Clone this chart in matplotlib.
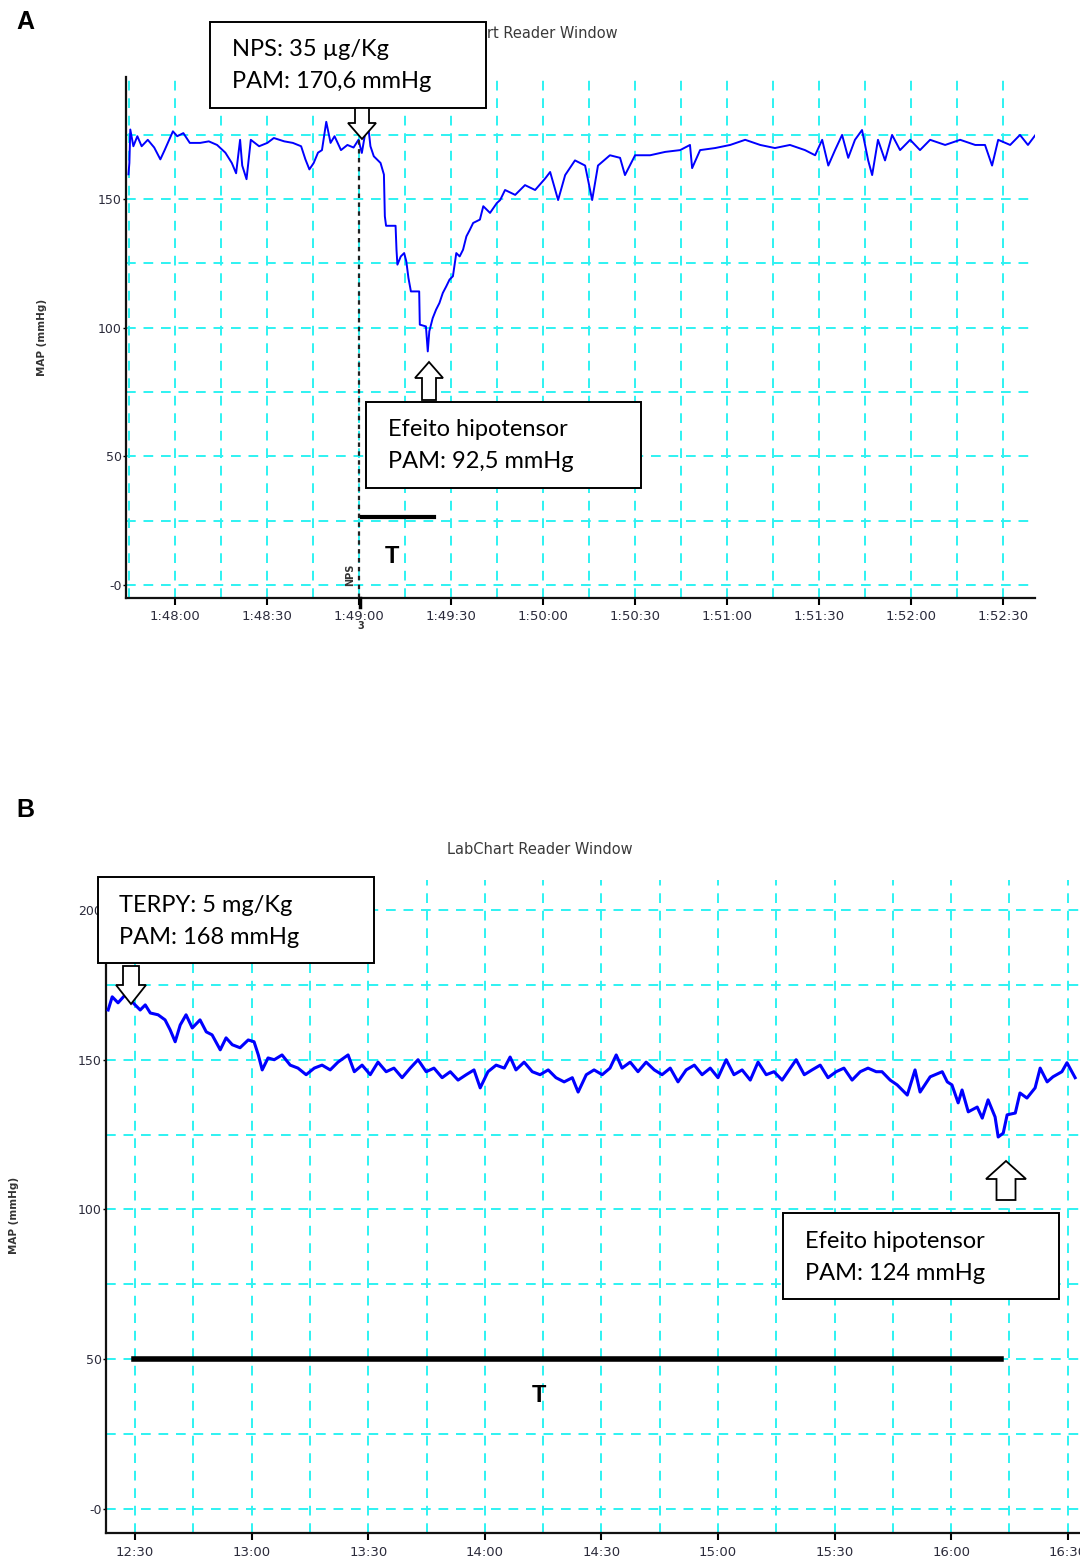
import matplotlib
matplotlib.use('Agg')
import matplotlib.pyplot as plt
from matplotlib.patches import Rectangle, Polygon
from matplotlib.lines import Line2D
from matplotlib.ticker import MultipleLocator

W, H = 1080, 1562

# Panel A: seconds after 1:48:00, MAP (mmHg)
time_a = [-15.2, -14.9, -14.6, -13.6, -12.3, -10.9, -8.9, -6.8, -4.8, -3.4, -0.7, 0.7, 2.7, 4.8, 8.2,
          11.0, 13.7, 16.4, 18.5, 19.9, 21.2, 21.9, 23.3, 24.7, 27.4, 30.1, 32.2, 35.6, 38.4, 41.1,
          42.5, 43.8, 45.2, 46.6, 47.9, 49.3, 50.7, 52.0, 54.1, 56.2, 58.2, 59.8, 60.9, 62.0, 63.1,
          63.7, 64.8, 65.9, 67.0, 68.1, 68.4, 68.8, 71.9, 72.2, 72.5, 73.6, 74.7, 75.4, 76.1, 76.9,
          79.6, 79.8, 81.8, 82.4, 82.9, 84.0, 85.1, 86.2, 87.3, 88.4, 89.5, 90.6, 91.2, 91.7, 92.8,
          93.9, 95.0, 96.1, 97.2, 99.4, 100.5, 102.7, 104.9, 106.0, 107.6, 110.9, 114.1, 117.4, 120.7,
          122.3, 124.9, 127.2, 130.4, 133.7, 136.0, 137.9, 141.8, 145.1, 146.7, 150.0, 154.9, 159.8,
          164.7, 167.9, 168.6, 171.2, 176.1, 181.0, 185.9, 190.8, 195.6, 200.5, 205.4, 208.7, 211.0,
          213.0, 215.2, 217.5, 219.5, 221.7, 224.0, 226.0, 227.3, 229.2, 231.5, 233.8, 236.4, 239.7,
          242.9, 246.2, 251.1, 256.0, 260.9, 264.1, 266.4, 268.4, 272.3, 275.5, 278.1, 281.0]
map_a = [159.6, 164, 177, 170.5, 174.4, 170.5, 173, 170, 165.4, 169, 176.3, 174.4, 175.6, 171.8, 171.8,
         172.4, 171, 168, 164, 160, 173, 163, 157.7, 173, 170.5, 171.8, 173.7, 172.4, 171.8, 170.5,
         165.4, 161.5, 164, 168, 169, 180, 171.8, 174.4, 169, 171, 170, 173, 167.9, 175.6, 177,
         170.5, 166.6, 165.3, 164, 159.5, 143.3, 139.6, 139.6, 130.3, 124.5, 127.7, 129, 125.8, 119.3, 114.1,
         114.1, 101.2, 100.5, 90.8, 98.6, 103.7, 107, 109.6, 113.5, 116, 118.7, 120, 125, 129, 127.7,
         130.3, 135.5, 138, 140.7, 142, 147.2, 144.6, 148.4, 149.6, 153.5, 151.6, 155.4, 153.5, 158,
         160.5, 149.6, 159.3, 165, 163, 149.6, 163, 167, 166, 159.3, 167, 167, 168.3,
         169, 171, 162, 169, 169.8, 171, 173, 171, 169.8, 171, 169, 167, 173,
         163, 169, 174.9, 166, 173, 176.8, 165, 159.3, 173, 165, 174.9, 169, 173,
         169, 173, 171, 173, 171, 171, 163, 173, 171, 174.9, 171, 175.6]
ticks_a = [0, 30, 60, 90, 120, 150, 180, 210, 240, 270]
tick_labels_a = ['1:48:00', '1:48:30', '1:49:00', '1:49:30', '1:50:00', '1:50:30',
                 '1:51:00', '1:51:30', '1:52:00', '1:52:30']
yticks_a = [0, 50, 100, 150]
ytick_labels_a = ['-0', '50', '100', '150']

# Panel B: minutes after 12:00, MAP (mmHg)
time_b = [23.05, 24.1, 25.6, 27.4, 28.7, 30.0, 31.3, 32.6, 33.9, 35.9,
          37.7, 39.0, 40.3, 41.6, 43.1, 44.7, 46.7, 48.3, 49.8, 51.9,
          53.4, 55.0, 57.0, 59.1, 60.6, 61.7, 62.7, 64.2, 65.8, 67.8,
          69.9, 71.9, 74.0, 76.1, 78.1, 80.2, 82.2, 84.8, 86.4, 88.4,
          90.5, 92.5, 94.6, 96.6, 98.7, 100.8, 102.8, 104.9, 106.9, 109.0,
          111.1, 113.1, 115.2, 117.2, 118.8, 120.8, 122.9, 125.0, 126.5, 128.0,
          130.1, 132.2, 134.2, 136.3, 138.3, 140.4, 142.5, 144.0, 146.1, 148.1,
          150.2, 152.2, 153.8, 155.3, 157.4, 159.4, 161.5, 163.6, 165.6, 167.7,
          169.7, 171.8, 173.9, 175.9, 178.0, 180.0, 182.1, 184.1, 186.2, 188.3,
          190.3, 192.4, 194.4, 196.5, 198.6, 200.1, 202.2, 204.2, 206.3, 208.3,
          210.4, 212.4, 214.5, 216.6, 218.6, 220.7, 222.2, 224.3, 226.1, 228.7,
          230.7, 232.0, 234.6, 237.7, 239.0, 240.2, 241.8, 242.8, 244.4, 246.7,
          248.0, 249.5, 251.3, 252.1, 253.4, 254.4, 256.5, 257.7, 259.5, 261.6,
          262.9, 264.7, 266.2, 268.5, 269.8, 271.9]
map_b = [166.6, 171, 169, 171.6, 170, 168.3, 166.6, 168.3, 165.6, 165,
         163.3, 160, 156, 161.6, 165, 160.6, 163.3, 159.3, 158.3, 153.3,
         157.3, 155, 154, 156.6, 156, 151.6, 146.6, 150.6, 150, 151.6,
         148.2, 147.2, 145, 147.2, 148.2, 146.6, 149.2, 151.6, 146, 148.2,
         145, 149.2, 146, 147.2, 144, 147.2, 150, 146, 147.2, 144,
         146, 143.2, 145, 146.6, 140.6, 146, 148.2, 147.2, 150.9, 146.6,
         149.2, 146, 145, 146.6, 144, 142.6, 144, 139.2, 145, 146.6,
         145, 147.2, 151.6, 147.2, 149.2, 146, 149.2, 146.6, 145, 147.2,
         142.6, 146.6, 148.2, 145, 147.2, 144, 150, 145, 146.6, 143.2,
         149.2, 145, 146, 143.2, 147.2, 150, 145, 146.6, 148.2, 144,
         146, 147.2, 143.2, 146, 147.2, 146, 146, 143.2, 141.6, 138.2,
         146.6, 139.2, 144.3, 146, 142.6, 141.6, 135.6, 139.9, 132.6, 134.2,
         130.5, 136.6, 130.9, 124.2, 125.5, 131.6, 132.2, 138.9, 137.2, 140.6,
         147.2, 142.6, 144.3, 146, 149, 144]
ticks_b = [30, 60, 90, 120, 150, 180, 210, 240, 270]
tick_labels_b = ['12:30', '13:00', '13:30', '14:00', '14:30', '15:00', '15:30', '16:00', '16:30']
yticks_b = [0, 50, 100, 150, 200]
ytick_labels_b = ['-0', '50', '100', '150', '200']

GRID = '#2ef2f2'
TRACE = '#0000ff'
TICKC = '#2b2b3b'
BOXFONT = ['Lato', 'DejaVu Sans']


def fx(x):
    return x / W


def fy(y):
    return 1 - y / H


def style_axes(ax, yticks, ylabels):
    for s in ['top', 'right']:
        ax.spines[s].set_visible(False)
    for s in ['left', 'bottom']:
        ax.spines[s].set_linewidth(1.6)
        ax.spines[s].set_color('#111111')
    ax.set_yticks(yticks)
    ax.set_yticklabels(ylabels)
    ax.yaxis.set_minor_locator(MultipleLocator(25))
    ax.set_axisbelow(True)
    ax.grid(which='both', color=GRID, linestyle=(0, (5, 4)), linewidth=1.4)
    ax.tick_params(which='minor', length=0)
    ax.tick_params(axis='x', which='major', length=5, width=1.5, pad=4,
                   labelsize=9.5, labelcolor=TICKC)
    ax.tick_params(axis='y', which='major', length=2, width=1, pad=1,
                   labelsize=9, labelcolor=TICKC)


def add_box(x0, y0, x1, y1, lines, tx, ty, dy=32):
    fig.patches.append(Rectangle((fx(x0), fy(y1)), (x1 - x0) / W, (y1 - y0) / H,
                                 transform=fig.transFigure, facecolor='white',
                                 edgecolor='black', linewidth=1.4, zorder=5))
    for i, line in enumerate(lines):
        fig.text(fx(tx), fy(ty + i * dy), line, family=BOXFONT, fontsize=17,
                 va='center', ha='left', zorder=6)


def block_arrow(xc, y_tip, y_end, head_w, shaft_w, head_len):
    d = 1 if y_end > y_tip else -1
    yb = y_tip + d * head_len
    pts = [(xc, y_tip), (xc + head_w / 2, yb), (xc + shaft_w / 2, yb),
           (xc + shaft_w / 2, y_end), (xc - shaft_w / 2, y_end),
           (xc - shaft_w / 2, yb), (xc - head_w / 2, yb)]
    fig.patches.append(Polygon([(fx(a), fy(b)) for a, b in pts], closed=True,
                               transform=fig.transFigure, facecolor='white',
                               edgecolor='black', linewidth=1.3, zorder=5))


fig = plt.figure(figsize=(10.8, 15.62), dpi=100)

# ---------------- panel A ----------------
ax_a = fig.add_axes([fx(126), fy(598), (1035 - 126) / W, (598 - 77) / H])
ax_a.plot(time_a, map_a, color=TRACE, linewidth=1.4, zorder=3)
ax_a.set_xlim(-16, 280.4)
ax_a.set_ylim(-5, 197.4)
ax_a.set_xticks(ticks_a)
ax_a.xaxis.set_minor_locator(MultipleLocator(15))
ax_a.set_xticklabels(tick_labels_a)
style_axes(ax_a, yticks_a, ytick_labels_a)
ax_a.axvline(60, ymax=0.92, color='#222222', linestyle=(0, (2, 2)), linewidth=1.6, zorder=4)
ax_a.plot([61, 84.5], [26.4, 26.4], color='black', linewidth=3, zorder=4)
ax_a.text(70.8, 11, 'T', fontsize=17, fontweight='bold', family='Liberation Sans',
          ha='center', va='center')
ax_a.text(57, 4, 'NPS', rotation=90, fontsize=7, fontweight='bold', color='#333333',
          ha='center', va='center')
fig.lines.append(Line2D([fx(360), fx(360)], [fy(598), fy(607)], transform=fig.transFigure,
                        color='black', linewidth=2.5))
fig.text(fx(361), fy(626), '3', fontsize=7, fontweight='bold', color='#333333',
         ha='center', va='center')

fig.text(fx(525), fy(33), 'LabChart Reader Window', fontsize=10.5, color='#3a3a3a',
         ha='center', va='center', zorder=2)
fig.text(fx(42), fy(337), 'MAP (mmHg)', rotation=90, fontsize=7.5, fontweight='bold',
         color='#333333', ha='center', va='center')
fig.text(fx(25), fy(22), 'A', fontsize=18, fontweight='bold', family='Liberation Sans',
         ha='center', va='center')

add_box(210, 22, 486, 108, ['NPS: 35 µg/Kg', 'PAM: 170,6 mmHg'], 232, 50)
add_box(366, 402, 641, 488, ['Efeito hipotensor', 'PAM: 92,5 mmHg'], 388, 430)
block_arrow(362, 139, 108, 28, 14, 16)
block_arrow(429, 362, 400, 28, 14, 16)

# ---------------- panel B ----------------
ax_b = fig.add_axes([fx(106), fy(1533), (1100 - 106) / W, (1533 - 880) / H])
ax_b.plot(time_b, map_b, color=TRACE, linewidth=2.2, zorder=3)
ax_b.set_xlim(22.5, 278.3)
ax_b.set_ylim(-8, 210)
ax_b.set_xticks(ticks_b)
ax_b.xaxis.set_minor_locator(MultipleLocator(15))
ax_b.set_xticklabels(tick_labels_b)
style_axes(ax_b, yticks_b, ytick_labels_b)
ax_b.plot([29.7, 252.9], [50, 50], color='black', linewidth=4, zorder=4)
ax_b.text(134, 38, 'T', fontsize=17, fontweight='bold', family='Liberation Sans',
          ha='center', va='center')

fig.text(fx(540), fy(849), 'LabChart Reader Window', fontsize=10.5, color='#3a3a3a',
         ha='center', va='center', zorder=2)
fig.text(fx(14), fy(1215), 'MAP (mmHg)', rotation=90, fontsize=7.5, fontweight='bold',
         color='#333333', ha='center', va='center')
fig.text(fx(25), fy(810), 'B', fontsize=18, fontweight='bold', family='Liberation Sans',
         ha='center', va='center')

add_box(98, 877, 374, 963, ['TERPY: 5 mg/Kg', 'PAM: 168 mmHg'], 119, 905)
add_box(783, 1213, 1059, 1299, ['Efeito hipotensor', 'PAM: 124 mmHg'], 805, 1241)
block_arrow(131, 1004, 966, 30, 16, 19)
block_arrow(1006, 1161, 1200, 40, 19, 18)

fig.savefig('out.png', dpi=100)
